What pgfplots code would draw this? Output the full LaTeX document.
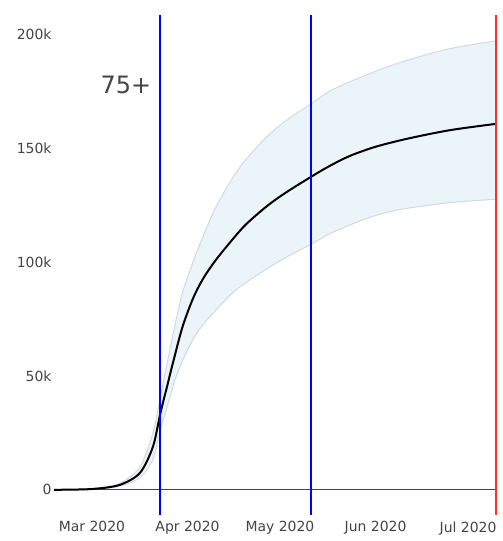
\documentclass[border=0pt]{standalone}
\usepackage{pgfplots}
\pgfplotsset{compat=1.18}
\usepackage{fontspec}
\setmainfont{DejaVu Sans}
\definecolor{bandfill}{RGB}{234,244,249}
\definecolor{bandedge}{RGB}{208,218,226}
\definecolor{ticktext}{RGB}{68,68,68}
\definecolor{redline}{RGB}{255,45,45}
\definecolor{zeroline}{RGB}{68,68,68}
\begin{document}
\begin{tikzpicture}[x=1bp,y=1bp]
\useasboundingbox (0,0) rectangle (503,541);
\begin{axis}[
  at={(54bp,26bp)}, anchor=south west,
  scale only axis, width=443bp, height=500bp,
  xmin=-12.3, xmax=131.4, ymin=-11, ymax=208.3,
  clip=false,
  axis line style={draw=none},
  major tick length=0pt,
  xtick={0,31,61,92,122},
  xticklabels={Mar 2020, Apr 2020, May 2020, Jun 2020, Jul 2020},
  ytick={0,50,100,150,200},
  yticklabels={0,50k,100k,150k,200k},
  tick label style={font=\fontsize{14}{16}\selectfont, text=ticktext},
  yticklabel style={xshift=1bp},
  xticklabel style={yshift=-3bp},
]
% band fill (upper edge, then lower edge reversed)
\addplot[fill=bandfill, draw=none] coordinates {
 (-12.3,0.05) (0,0.5) (9,2.8) (15.6,10) (19.8,25) (22.1,40) (24.3,55) (26.9,72)
 (29.5,87) (32.8,100) (36,111) (40,123.5) (45.7,137) (50,145) (56.8,155)
 (63,162) (70.7,169) (78,175.5) (89,182) (100,187.5) (116,193.5) (131.4,197)
 (131.4,127.5) (116,126) (100,123) (90,119.5) (78.2,113) (70.7,107.5) (63,102)
 (56.8,97) (50,91) (45.7,86.5) (40,78.5) (36,72.5) (32.8,66) (29.5,57)
 (26.9,48) (24.3,36) (22.1,26) (19.8,13.5) (15.6,5.5) (9,1.6) (0,0.3) (-12.3,0.05)
} -- cycle;
% band edges
\addplot[bandedge, line width=1bp, smooth] coordinates {
 (-12.3,0.05) (0,0.5) (9,2.8) (15.6,10) (19.8,25) (22.1,40) (24.3,55) (26.9,72)
 (29.5,87) (32.8,100) (36,111) (40,123.5) (45.7,137) (50,145) (56.8,155)
 (63,162) (70.7,169) (78,175.5) (89,182) (100,187.5) (116,193.5) (131.4,197)
};
\addplot[bandedge, line width=1bp, smooth] coordinates {
 (-12.3,0.05) (0,0.3) (9,1.6) (15.6,5.5) (19.8,13.5) (22.1,26) (24.3,36) (26.9,48)
 (29.5,57) (32.8,66) (36,72.5) (40,78.5) (45.7,86.5) (50,91) (56.8,97) (63,102)
 (70.7,107.5) (78.2,113) (90,119.5) (100,123) (116,126) (131.4,127.5)
};
% zero line
\addplot[zeroline, line width=1bp] coordinates {(-12.3,0) (131.4,0)};
% central estimate
\addplot[black, line width=2bp, smooth] coordinates {
 (-12.3,0.05) (0,0.4) (9,2.2) (15.6,7.5) (19.8,19) (22.1,33) (24.3,45) (26.9,59)
 (29.5,72) (32.8,84) (36,92.5) (40,100.5) (45.7,110) (50,116.5) (56.8,124.5)
 (63,130.5) (70.7,137) (77,142) (83.7,146.5) (92,150.5) (102.2,154)
 (116.2,157.8) (131.4,160.6)
};
% vertical markers
\addplot[blue, line width=2bp] coordinates {(22.2,-11) (22.2,208.3)};
\addplot[blue, line width=2bp] coordinates {(71.1,-11) (71.1,208.3)};
\addplot[redline, line width=2.5bp] coordinates {(131.0,-11) (131.0,208.3)};
\node[text=ticktext, font=\fontsize{24}{28}\selectfont] at (axis cs:11,177.6) {75+};
\end{axis}
\end{tikzpicture}
\end{document}
